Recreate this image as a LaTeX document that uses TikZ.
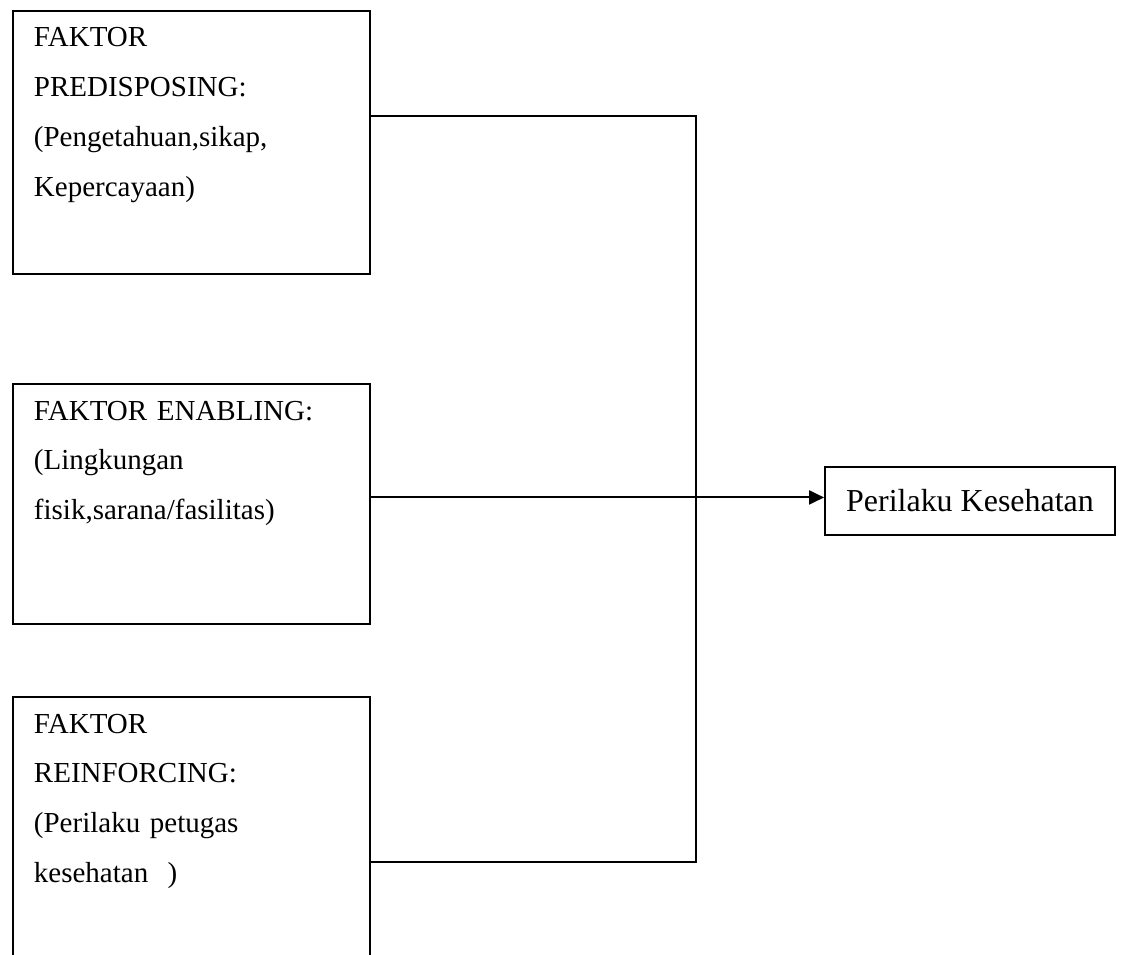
\documentclass[tikz,border=0pt]{standalone}
\usepackage{fontspec}
\setmainfont{Liberation Serif}
\usetikzlibrary{arrows.meta}

\begin{document}
\begin{tikzpicture}[x=0.02cm, y=-0.02cm, line width=1.1pt,
        faktor/.style={draw, minimum width=7.14cm, anchor=north west, inner sep=0pt},
        isi/.style={anchor=base west, inner sep=0pt, text width=6.5cm, align=left, font=\fontsize{16.5}{28.45}\selectfont},
        hasil/.style={draw, minimum width=5.8cm, minimum height=1.36cm, font=\fontsize{18.2}{22}\selectfont}]
            \useasboundingbox (0,0) rectangle (1124,955);
            \clip (0,0) rectangle (1124,955);

            \node[faktor, minimum height=5.26cm] (predisp) at (12,10) {};
            \node[faktor, minimum height=4.8cm] (enabl) at (12,383) {};
            \node[faktor, minimum height=6.64cm] (reinf) at (12,696) {};

            \node[isi] (predispisi) at (33,47) {FAKTOR\\PREDISPOSING:\\(Pengetahuan,sikap,\\Kepercayaan)};
            \node[isi] (enablisi) at (33,420) {FAKTOR ENABLING:\\(Lingkungan\\fisik,sarana/fasilitas)};
            \node[isi] (reinfisi) at (33,733) {FAKTOR\\REINFORCING:\\(Perilaku petugas\\kesehatan~~)};

            \node[hasil] (perilaku) at (970,501) {Perilaku Kesehatan};

            \coordinate (bustop) at (696,116);
            \coordinate (busbot) at (696,862);

            \draw (bustop -| predisp.east) -- (bustop) -- (busbot) -- (busbot -| reinf.east);
            \draw[-{Triangle[length=0.3cm, width=0.28cm]}] ([yshift=0.13cm]enabl.east) coordinate (e2) -- (e2 -| perilaku.west);
        \end{tikzpicture}
\end{document}
